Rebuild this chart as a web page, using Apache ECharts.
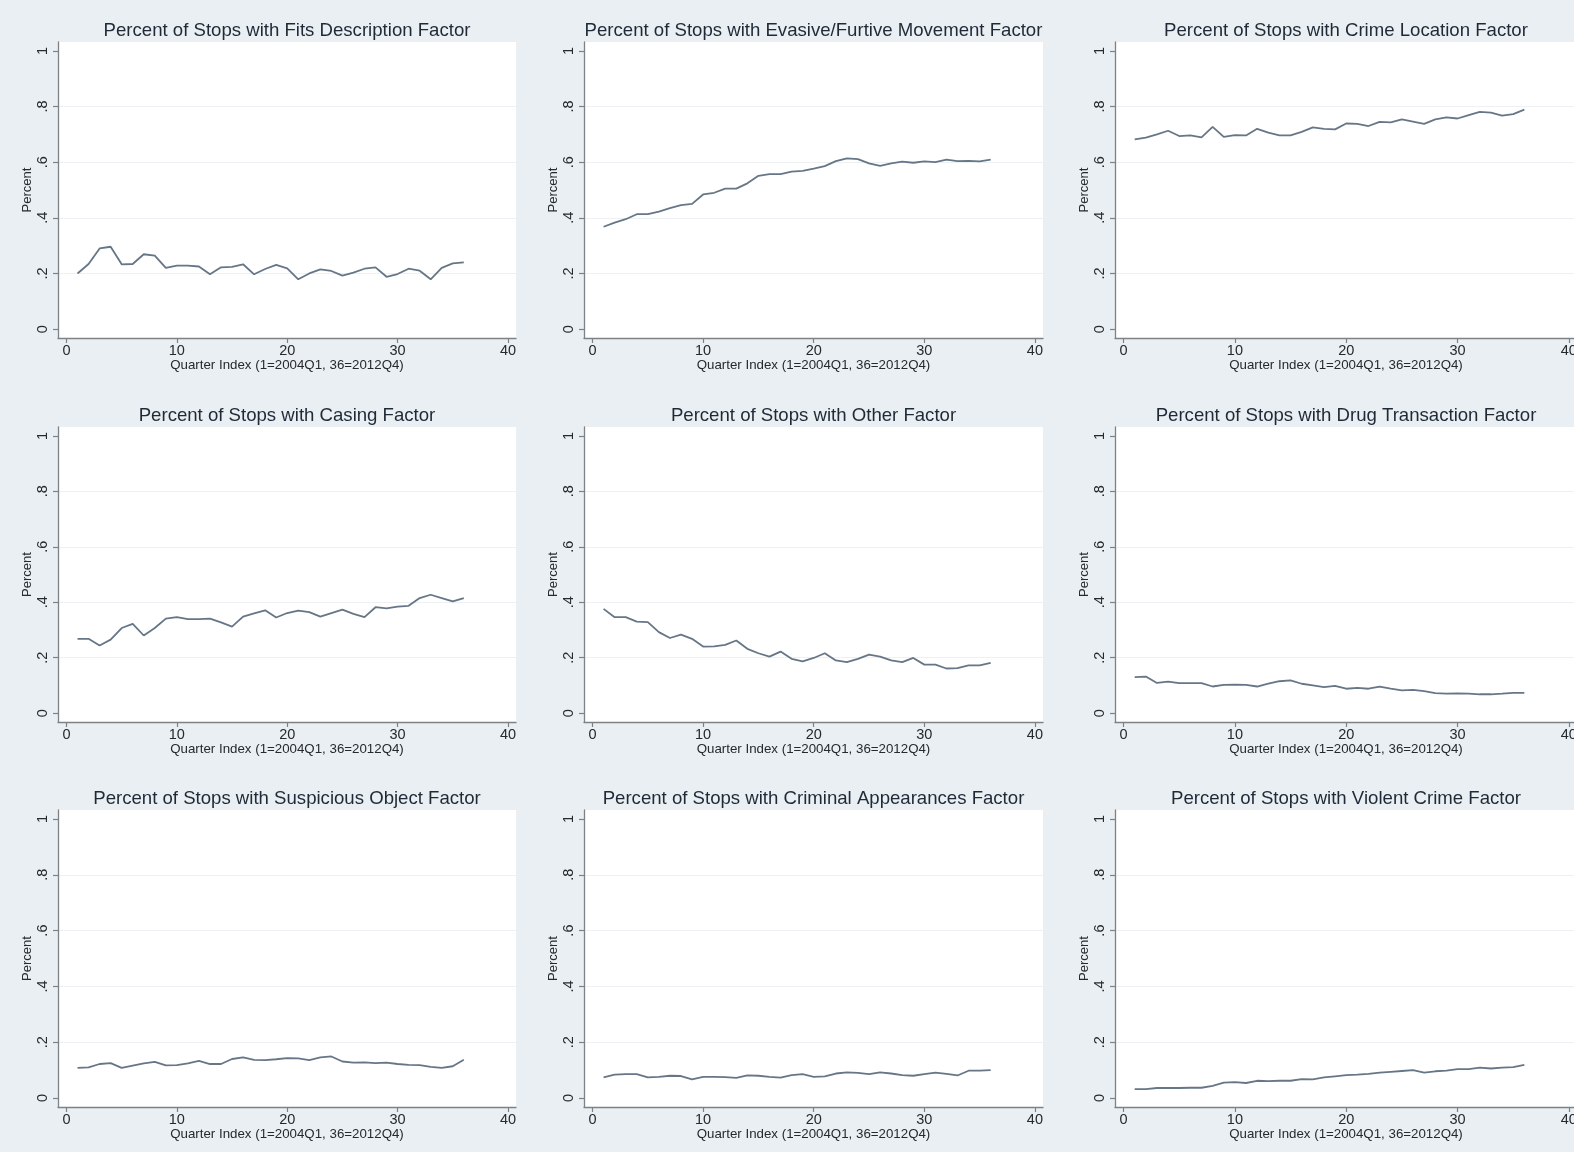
<!DOCTYPE html>
<html>
<head>
<meta charset="utf-8">
<script src="https://cdn.jsdelivr.net/npm/echarts@6/dist/echarts.min.js"></script>
<style>
html,body{margin:0;padding:0;background:#e9eff2;}
#chart{width:1574px;height:1152px;}
</style>
</head>
<body>
<div id="chart"></div>
<script>
// ---- data ----
const quarters = [1,2,3,4,5,6,7,8,9,10,11,12,13,14,15,16,17,18,19,20,21,22,23,24,25,26,27,28,29,30,31,32,33,34,35,36];

const fitsDescription = [0.200,0.234,0.290,0.296,0.233,0.234,0.269,0.264,0.220,0.228,0.228,0.225,0.197,0.222,0.224,0.233,0.197,0.216,0.231,0.218,0.179,0.200,0.215,0.209,0.192,0.203,0.217,0.222,0.188,0.198,0.217,0.210,0.179,0.220,0.236,0.240];
const evasiveMovement = [0.368,0.383,0.395,0.413,0.413,0.422,0.435,0.446,0.450,0.484,0.490,0.505,0.505,0.524,0.551,0.557,0.557,0.566,0.569,0.577,0.586,0.604,0.614,0.611,0.596,0.587,0.596,0.602,0.598,0.603,0.600,0.609,0.604,0.605,0.603,0.609];
const crimeLocation = [0.682,0.688,0.700,0.713,0.694,0.696,0.689,0.727,0.691,0.697,0.696,0.720,0.706,0.696,0.696,0.709,0.725,0.720,0.718,0.739,0.738,0.730,0.745,0.743,0.754,0.746,0.738,0.754,0.761,0.757,0.769,0.781,0.778,0.767,0.773,0.789];
const casing = [0.268,0.268,0.244,0.265,0.307,0.322,0.280,0.307,0.341,0.346,0.339,0.339,0.341,0.327,0.312,0.348,0.360,0.371,0.345,0.361,0.370,0.364,0.348,0.361,0.373,0.358,0.346,0.382,0.378,0.384,0.387,0.415,0.427,0.415,0.403,0.415];
const otherFactor = [0.376,0.346,0.346,0.330,0.328,0.292,0.271,0.283,0.268,0.240,0.241,0.246,0.262,0.232,0.216,0.204,0.222,0.196,0.187,0.199,0.216,0.190,0.184,0.196,0.211,0.204,0.190,0.184,0.199,0.175,0.175,0.161,0.162,0.172,0.172,0.181];
const drugTransaction = [0.130,0.132,0.109,0.114,0.108,0.108,0.108,0.096,0.102,0.103,0.102,0.096,0.106,0.115,0.118,0.106,0.100,0.094,0.098,0.088,0.091,0.088,0.096,0.088,0.082,0.084,0.079,0.072,0.070,0.071,0.070,0.068,0.068,0.070,0.073,0.073];
const suspiciousObject = [0.108,0.110,0.122,0.125,0.108,0.116,0.124,0.130,0.117,0.118,0.124,0.133,0.122,0.122,0.140,0.146,0.137,0.136,0.139,0.143,0.142,0.136,0.146,0.149,0.131,0.127,0.128,0.125,0.127,0.122,0.119,0.118,0.112,0.108,0.114,0.137];
const criminalAppearances = [0.074,0.084,0.086,0.086,0.074,0.076,0.080,0.079,0.067,0.076,0.076,0.075,0.072,0.081,0.080,0.076,0.073,0.082,0.086,0.076,0.078,0.088,0.092,0.090,0.086,0.092,0.088,0.082,0.080,0.086,0.091,0.087,0.081,0.098,0.098,0.100];
const violentCrime = [0.032,0.032,0.036,0.036,0.036,0.037,0.037,0.044,0.055,0.057,0.054,0.062,0.061,0.062,0.062,0.068,0.067,0.074,0.078,0.082,0.084,0.087,0.091,0.094,0.097,0.100,0.091,0.096,0.098,0.104,0.104,0.109,0.106,0.109,0.111,0.119];

const panelTitles = [
  "Percent of Stops with Fits Description Factor",
  "Percent of Stops with Evasive/Furtive Movement Factor",
  "Percent of Stops with Crime Location Factor",
  "Percent of Stops with Casing Factor",
  "Percent of Stops with Other Factor",
  "Percent of Stops with Drug Transaction Factor",
  "Percent of Stops with Suspicious Object Factor",
  "Percent of Stops with Criminal Appearances Factor",
  "Percent of Stops with Violent Crime Factor"
];
const panelSeries = [fitsDescription, evasiveMovement, crimeLocation, casing, otherFactor, drugTransaction, suspiciousObject, criminalAppearances, violentCrime];

const xTicks = [0,10,20,30,40];
const yTicks = [0,0.2,0.4,0.6,0.8,1];
const yGridValues = [0.2,0.4,0.6,0.8];
const xAxisTitle = "Quarter Index (1=2004Q1, 36=2012Q4)";
const yAxisTitle = "Percent";

// ---- layout (plot regions) ----
const colLeft = [58, 584, 1115];
const colWidth = [458, 459, 462];
const rowTop = [42, 427, 810];
const rowHeight = [296, 295, 297];
const xRange = [-0.77, 40.73];
const yRange = [-0.032, 1.032];

const FONT = "'Liberation Sans', Arial, Helvetica, sans-serif";
const AXIS_COLOR = '#7d8287';
const TEXT_COLOR = '#26292d';
const TITLE_COLOR = '#1f2a36';
const LINE_COLOR = '#667687';
const GRID_COLOR = '#edf1f3';

function fmtY(v) {
  if (Math.abs(v) < 1e-9) return '0';
  if (Math.abs(v - 1) < 1e-9) return '1';
  return String(Math.round(v * 10) / 10).replace(/^0/, '');
}

const grids = [], xAxes = [], yAxes = [], series = [], titles = [];
for (let i = 0; i < 9; i++) {
  const r = Math.floor(i / 3), c = i % 3;
  grids.push({
    left: colLeft[c], top: rowTop[r], width: colWidth[c], height: rowHeight[r],
    show: true, backgroundColor: '#ffffff', borderWidth: 0,
    containLabel: false, outerBoundsMode: 'none'
  });
  titles.push({
    text: panelTitles[i],
    left: colLeft[c] + colWidth[c] / 2,
    top: rowTop[r] - 21,
    textAlign: 'center',
    padding: 0,
    textStyle: { fontFamily: FONT, fontSize: 18.6, fontWeight: 'normal', color: TITLE_COLOR }
  });
  xAxes.push({
    type: 'value', gridIndex: i, min: xRange[0], max: xRange[1],
    position: 'bottom',
    name: xAxisTitle, nameLocation: 'middle', nameGap: 17,
    nameTextStyle: { fontFamily: FONT, fontSize: 13.3, color: TEXT_COLOR },
    axisLine: { show: true, onZero: false, lineStyle: { color: AXIS_COLOR, width: 1.3 } },
    axisTick: { show: true, length: 5, customValues: xTicks, lineStyle: { color: AXIS_COLOR, width: 1.2 } },
    axisLabel: { show: true, customValues: xTicks, margin: 5, fontFamily: FONT, fontSize: 14.5, color: TEXT_COLOR },
    splitLine: { show: false }
  });
  yAxes.push({
    type: 'value', gridIndex: i, min: yRange[0], max: yRange[1],
    position: 'left',
    name: yAxisTitle, nameLocation: 'middle', nameGap: 24, nameRotate: 90,
    nameTextStyle: { fontFamily: FONT, fontSize: 13, color: TEXT_COLOR },
    axisLine: { show: true, onZero: false, lineStyle: { color: AXIS_COLOR, width: 1.3 } },
    axisTick: { show: true, length: 5, customValues: yTicks, lineStyle: { color: AXIS_COLOR, width: 1.2 } },
    axisLabel: { show: true, customValues: yTicks, rotate: 90, margin: 8, fontFamily: FONT, fontSize: 14.5, color: TEXT_COLOR, formatter: fmtY },
    splitLine: { show: false }
  });
  // second (invisible) y axis carrying the horizontal grid lines
  yAxes.push({
    type: 'value', gridIndex: i, min: yRange[0], max: yRange[1],
    position: 'right',
    axisLine: { show: false },
    axisTick: { show: false, customValues: yGridValues },
    axisLabel: { show: false },
    splitLine: { show: true, lineStyle: { color: GRID_COLOR, width: 1.2 } }
  });
  series.push({
    type: 'line', xAxisIndex: i, yAxisIndex: 2 * i,
    data: quarters.map((q, k) => [q, panelSeries[i][k]]),
    showSymbol: false, symbol: 'none', smooth: false,
    lineStyle: { color: LINE_COLOR, width: 1.8 },
    z: 5
  });
}

const chart = echarts.init(document.getElementById('chart'), null, { renderer: 'canvas' });
chart.setOption({
  animation: false,
  backgroundColor: '#e9eff2',
  textStyle: { fontFamily: FONT },
  title: titles,
  grid: grids,
  xAxis: xAxes,
  yAxis: yAxes,
  series: series,
  tooltip: { show: false }
});
</script>
</body>
</html>
